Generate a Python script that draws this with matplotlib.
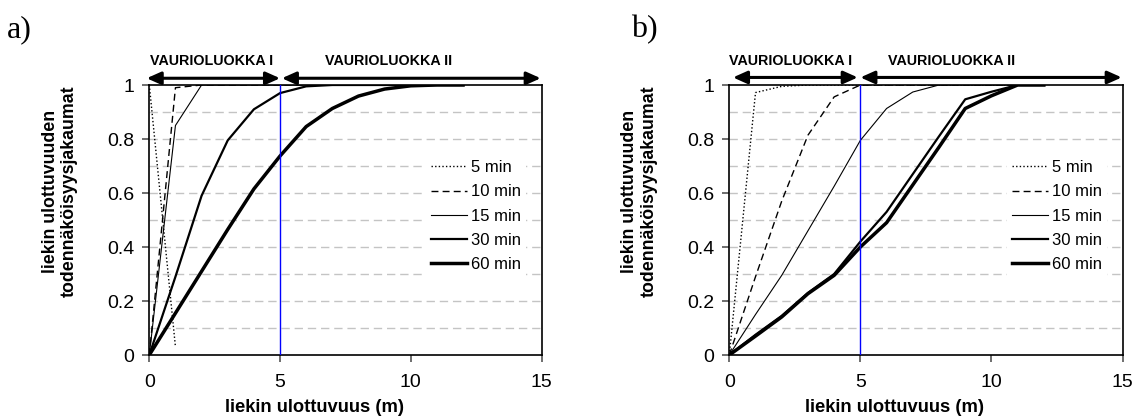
import numpy as np
import matplotlib.pyplot as plt

plt.rcParams["font.family"] = ["Liberation Sans", "DejaVu Sans"]

# ---- data: cumulative probability of flame reach, per fire duration ----
labels = ["5 min", "10 min", "15 min", "30 min", "60 min"]

# panel a)
a_x5 = [0, 1]
a_y5 = [1.0, 0.03]
a_x10 = [0, 1, 2, 3, 4, 5, 6, 7, 8, 9, 10, 11, 12]
a_y10 = [0, 0.99, 1, 1, 1, 1, 1, 1, 1, 1, 1, 1, 1]
a_x15 = [0, 1, 2, 3, 4, 5, 6, 7, 8, 9, 10, 11, 12]
a_y15 = [0, 0.85, 1, 1, 1, 1, 1, 1, 1, 1, 1, 1, 1]
a_x30 = [0, 1, 2, 3, 4, 5, 6, 7, 8, 9, 10, 11, 12]
a_y30 = [0, 0.29, 0.59, 0.795, 0.91, 0.97, 0.995, 1, 1, 1, 1, 1, 1]
a_x60 = [0, 1, 2, 3, 4, 5, 6, 7, 8, 9, 10, 11, 12]
a_y60 = [0, 0.155, 0.31, 0.465, 0.615, 0.737, 0.846, 0.913, 0.959, 0.985, 0.997, 1, 1]

# panel b)
b_x5 = [0, 1, 2, 3, 4, 5, 6, 7, 8, 9, 10, 11, 12]
b_y5 = [0, 0.972, 0.995, 1, 1, 1, 1, 1, 1, 1, 1, 1, 1]
b_x10 = [0, 1, 2, 3, 4, 5, 6, 7, 8, 9, 10, 11, 12]
b_y10 = [0, 0.29, 0.57, 0.814, 0.956, 1, 1, 1, 1, 1, 1, 1, 1]
b_x15 = [0, 1, 2, 3, 4, 5, 6, 7, 8, 9, 10, 11, 12]
b_y15 = [0, 0.15, 0.295, 0.46, 0.625, 0.795, 0.913, 0.974, 1, 1, 1, 1, 1]
b_x30 = [0, 1, 2, 3, 4, 5, 6, 7, 8, 9, 10, 11, 12]
b_y30 = [0, 0.075, 0.145, 0.23, 0.30, 0.42, 0.53, 0.67, 0.81, 0.947, 0.975, 1, 1]
b_x60 = [0, 1, 2, 3, 4, 5, 6, 7, 8, 9, 10, 11, 12]
b_y60 = [0, 0.07, 0.141, 0.227, 0.295, 0.40, 0.49, 0.63, 0.77, 0.913, 0.96, 1, 1]

class_limit = 5
class_names = ["VAURIOLUOKKA I", "VAURIOLUOKKA II"]

# line styles for 5, 10, 15, 30, 60 min
styles = [
    dict(ls=(0, (1, 1.6)), lw=1.0),
    dict(ls=(0, (5, 3)), lw=1.0),
    dict(ls="-", lw=0.8),
    dict(ls="-", lw=1.6),
    dict(ls="-", lw=2.5),
]

W, H = 1136, 419
fig = plt.figure(figsize=(W / 100, H / 100), dpi=100)


def px_axes(left, top, right, bottom):
    return fig.add_axes([left / W, 1 - bottom / H, (right - left) / W, (bottom - top) / H])


def panel(ax, xs, ys, tag, ann):
    for x, y, lab, st in zip(xs, ys, labels, styles):
        ax.plot(x, y, color="black", label=lab, zorder=3, **st)
    ax.axvline(class_limit, color="#0000ff", lw=1.0, zorder=4)

    ax.set_xlim(0, 15)
    ax.set_ylim(0, 1)
    ax.set_xticks([0, 5, 10, 15])
    ax.set_yticks([0, 0.2, 0.4, 0.6, 0.8, 1])
    ax.set_yticklabels(["0", "0.2", "0.4", "0.6", "0.8", "1"])
    ax.tick_params(axis="both", labelsize=14, direction="out", color="#555555",
                   length=5, width=1.2)
    ax.tick_params(axis="x", pad=9)
    ax.tick_params(axis="y", pad=6)
    for g in np.arange(0.1, 1.0, 0.1):
        ax.axhline(g, color="#c4c4c4", lw=1.0, ls=(0, (6, 3.5)), zorder=1)
    for s in ax.spines.values():
        s.set_linewidth(1.2)

    leg = ax.legend(loc="upper left", bbox_to_anchor=(0.705, 0.74), fontsize=12,
                    handlelength=2.2, handletextpad=0.2, labelspacing=0.55,
                    borderpad=0.3, borderaxespad=0, frameon=True, fancybox=False)
    leg.get_frame().set_facecolor("white")
    leg.get_frame().set_edgecolor("none")
    leg.get_frame().set_alpha(1)
    leg.set_zorder(5)

    ax.text(-0.228, 0.605, "liekin ulottuvuuden\ntodennäköisyysjakaumat",
            transform=ax.transAxes, rotation=90, ha="center", va="center",
            fontsize=12.8, fontweight="bold", multialignment="center",
            linespacing=1.2)
    ax.text(0.42, -0.195, "liekin ulottuvuus (m)", transform=ax.transAxes,
            ha="center", va="center", fontsize=13.2, fontweight="bold")

    # damage class arrows above the plot
    (x1a, x1b, xt1), (x2a, x2b, xt2), ya = ann
    for xa, xb in [(x1a, x1b), (x2a, x2b)]:
        ax.annotate("", xy=(xb, ya), xytext=(xa, ya), xycoords="data",
                    annotation_clip=False,
                    arrowprops=dict(arrowstyle="<|-|>,head_length=0.85,head_width=0.38",
                                    color="black", lw=2.2, shrinkA=0, shrinkB=0,
                                    mutation_scale=10))
    ax.text(xt1, 1.088, class_names[0], ha="center", va="center", fontsize=10.3,
            fontweight="bold", clip_on=False)
    ax.text(xt2, 1.088, class_names[1], ha="center", va="center", fontsize=10.3,
            fontweight="bold", clip_on=False)

    fig.text(tag[1] / W, 1 - tag[2] / H, tag[0], family="Liberation Serif",
             fontsize=23, ha="left", va="center")


ax_a = px_axes(149.3, 85, 541.5, 355)
panel(ax_a,
      [a_x5, a_x10, a_x15, a_x30, a_x60],
      [a_y5, a_y10, a_y15, a_y30, a_y60],
      ("a)", 7, 30),
      ((-0.1, 5.0, 2.39), (5.07, 14.97, 9.15), 1.025))

ax_b = px_axes(729.3, 85, 1122.5, 355)
panel(ax_b,
      [b_x5, b_x10, b_x15, b_x30, b_x60],
      [b_y5, b_y10, b_y15, b_y30, b_y60],
      ("b)", 631, 30),
      ((0.14, 4.9, 2.32), (5.0, 14.97, 8.49), 1.028))

fig.savefig("out.png", dpi=100)
